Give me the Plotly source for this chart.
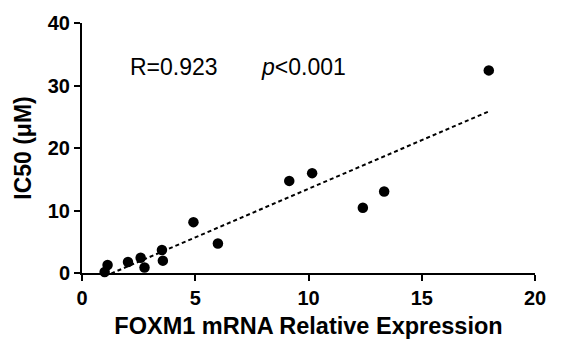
import numpy as np
import plotly.graph_objects as go

foxm1_expr = [1.00, 1.13, 2.03, 2.59, 2.76, 3.53, 3.57, 4.92, 6.00, 9.15, 10.16, 12.40, 13.34, 17.96]
ic50_um = [0.15, 1.29, 1.76, 2.44, 0.89, 3.69, 1.98, 8.14, 4.72, 14.74, 15.98, 10.43, 13.03, 32.42]
x_ticks = [0, 5, 10, 15, 20]
y_ticks = [0, 10, 20, 30, 40]
r_text = "R=0.923"
p_text = "<i>p</i><0.001"

x = np.array(foxm1_expr)
y = np.array(ic50_um)
slope, intercept = np.polyfit(x, y, 1)
fit_x = np.array([x.min(), x.max()])
fit_y = slope * fit_x + intercept

FONT = "Liberation Sans, Arial, sans-serif"

fig = go.Figure()
fig.add_trace(go.Scatter(x=fit_x, y=fit_y, mode="lines",
                         line=dict(color="black", width=2, dash="4px,3px"),
                         hoverinfo="skip", showlegend=False))
fig.add_trace(go.Scatter(x=foxm1_expr, y=ic50_um, mode="markers",
                         marker=dict(color="black", size=10.5),
                         cliponaxis=False, showlegend=False))

axis_common = dict(showgrid=False, zeroline=False, showline=True, linecolor="black",
                   linewidth=2, ticks="outside", ticklen=6, tickwidth=2, tickcolor="black",
                   tickfont=dict(family=FONT, size=20, color="black", weight="bold"))

fig.update_xaxes(range=[0, 20], tickvals=x_ticks, ticktext=[str(t) for t in x_ticks],
                 title=dict(text="FOXM1 mRNA Relative Expression",
                            font=dict(family=FONT, size=23.5, color="black", weight="bold"),
                            standoff=10),
                 **axis_common)
fig.update_yaxes(range=[0, 40], tickvals=y_ticks, ticktext=[str(t) for t in y_ticks],
                 title=dict(text="IC50 (μM)",
                            font=dict(family=FONT, size=23, color="black", weight="bold"),
                            standoff=10),
                 **axis_common)

fig.add_annotation(x=(128 - 82) / 453, y=(275 - 63) / 257, xref="x domain", yref="y domain",
                   text=r_text, showarrow=False, xanchor="left", yanchor="middle",
                   font=dict(family=FONT, size=23, color="black"))
fig.add_annotation(x=(259 - 82) / 453, y=(275 - 63) / 257, xref="x domain", yref="y domain",
                   text=p_text, showarrow=False, xanchor="left", yanchor="middle",
                   font=dict(family=FONT, size=23, color="black"))

fig.update_layout(width=563, height=347, margin=dict(l=82, r=28, t=18, b=72),
                  paper_bgcolor="white", plot_bgcolor="white",
                  font=dict(family=FONT, color="black"))

fig.write_html("out.html")
